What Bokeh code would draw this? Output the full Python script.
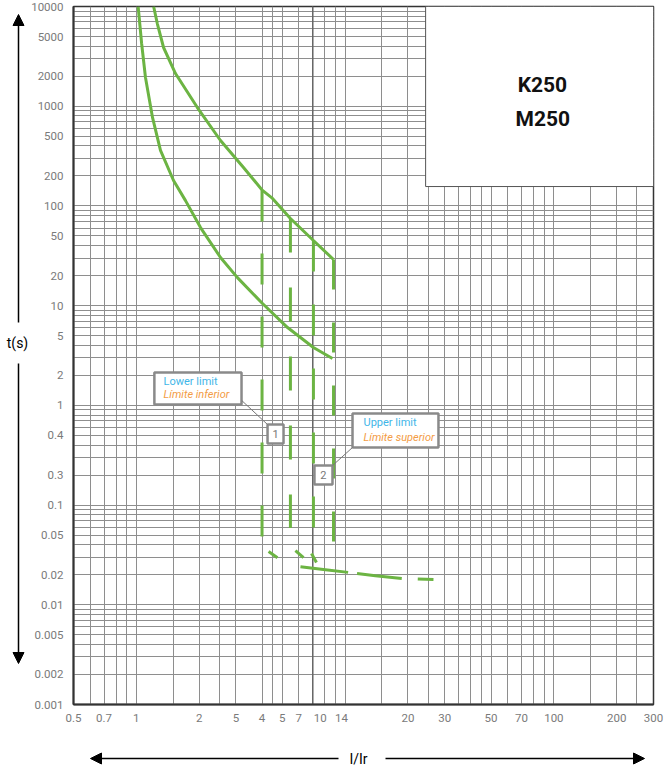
from bokeh.plotting import figure
from bokeh.layouts import column, row
from bokeh.models import (Range1d, FixedTicker, BoxAnnotation, Label, Arrow,
                          NormalHead, Span)
from bokeh.embed import file_html
from bokeh.resources import INLINE

# ---------------- data ----------------
upper_I = [1.21, 1.26, 1.35, 1.54, 1.96, 2.53, 3.26, 4.02, 4.49, 5.47, 7.05, 8.8]
upper_t = [10000, 6750, 3880, 2128, 970, 453, 243, 143, 119, 74.8, 45, 29]

lower_I = [1.02, 1.06, 1.106, 1.195, 1.305, 1.507, 1.72, 2.03, 2.53, 3.05, 4.02, 5.3, 7.05, 8.7]
lower_t = [10000, 4256, 1941, 771, 360, 180, 113, 60.7, 30.4, 19.1, 10.5, 6.03, 3.8, 2.95]

trip_I = [4.0, 5.47, 7.05, 8.8]
trip_t_top = [143, 74.8, 45, 29]
trip_t_bottom = [0.048, 0.059, 0.059, 0.043]

knee_I0 = [4.30, 5.78, 6.90]
knee_t0 = [0.0342, 0.035, 0.0327]
knee_I1 = [4.74, 6.32, 7.29]
knee_t1 = [0.0297, 0.0297, 0.0265]

inst_I = [6.11, 8.05, 10.6, 13.96, 19.0, 26.5]
inst_t = [0.0241, 0.0225, 0.0210, 0.0196, 0.0183, 0.0179]

xtick_vals = [0.5, 0.7, 1, 2, 3, 4, 5, 6, 7.6, 9.6, 20, 30, 50, 70, 100, 200, 300]
xtick_labels = ["0.5", "0.7", "1", "2", "5", "4", "5", "7", "10", "14",
                "20", "30", "50", "70", "100", "200", "300"]
ytick_vals = [10000, 5000, 2000, 1000, 500, 200, 100, 50, 20, 10, 5, 2, 1,
              0.5, 0.2, 0.1, 0.05, 0.02, 0.01, 0.005, 0.002, 0.001]
ytick_labels = ["10000", "5000", "2000", "1000", "500", "200", "100", "50", "20",
                "10", "5", "2", "1", "0.4", "0.3", "0.1", "0.05", "0.02", "0.01",
                "0.005", "0.002", "0.001"]
xgrid_vals = [0.6, 0.7, 0.8, 0.9, 1, 1.5, 2, 2.5, 3, 4, 4.5, 5, 6, 7, 8, 9, 10,
              15, 20, 25, 30, 35, 40, 45, 50, 60, 70, 80, 90, 100, 150, 200, 250]
ygrid_vals = [k * 10.0 ** e for e in range(-3, 4) for k in range(1, 10)] + [10000]

# ---------------- styling ----------------
GREEN = "#6cb443"
GRID = "#8e8e8e"
TICK = "#7a7a7a"
FONT = "Roboto"

p = figure(x_axis_type="log", y_axis_type="log",
           x_range=Range1d(0.5, 300), y_range=Range1d(0.001, 10000),
           frame_width=580, frame_height=698,
           min_border_left=45, min_border_right=15, min_border_top=6, min_border_bottom=36,
           output_backend="svg", toolbar_location=None, title=None)

p.background_fill_color = "white"
p.border_fill_color = "white"
p.outline_line_color = "#333333"
p.outline_line_width = 1.5

for ax in (p.xaxis[0], p.yaxis[0]):
    ax.axis_line_color = "#333333"
    ax.axis_line_width = 2
    ax.major_tick_line_color = None
    ax.minor_tick_line_color = None
    ax.major_tick_out = 0
    ax.major_tick_in = 0
    ax.minor_tick_out = 0
    ax.minor_tick_in = 0
    ax.major_label_text_font = FONT
    ax.major_label_text_font_size = "11.5px"
    ax.major_label_text_color = TICK

p.xaxis.ticker = FixedTicker(ticks=xtick_vals)
p.xaxis.major_label_overrides = {v: s for v, s in zip(xtick_vals, xtick_labels)}
p.xaxis.major_label_standoff = 9
p.yaxis.ticker = FixedTicker(ticks=ytick_vals)
p.yaxis.major_label_overrides = {v: s for v, s in zip(ytick_vals, ytick_labels)}
p.yaxis.major_label_standoff = 10

p.xgrid.ticker = FixedTicker(ticks=xgrid_vals)
p.ygrid.ticker = FixedTicker(ticks=ygrid_vals)
for g in (p.xgrid[0], p.ygrid[0]):
    g.grid_line_color = GRID
    g.grid_line_width = 1

p.add_layout(Span(location=7, dimension="height", line_color="#666666",
                  line_width=1.5, level="underlay"))

# ---------------- curves ----------------
p.line(upper_I, upper_t, line_color=GREEN, line_width=3)
p.line(lower_I, lower_t, line_color=GREEN, line_width=3)

dashes = ["31 32", "34 35", "31 33", "30 33"]
for i in range(len(trip_I)):
    p.line([trip_I[i], trip_I[i]], [trip_t_top[i], trip_t_bottom[i]],
           line_color=GREEN, line_width=3, line_dash=dashes[i])

p.segment(knee_I0, knee_t0, knee_I1, knee_t1, line_color=GREEN, line_width=3)
p.line(inst_I, inst_t, line_color=GREEN, line_width=3, line_dash="48 9 45 16")

# ---------------- annotation boxes ----------------
p.add_layout(BoxAnnotation(left=24.3, bottom=156.5, fill_color="white", fill_alpha=1,
                           line_color="#555555", line_alpha=1, line_width=1))
p.add_layout(Label(x=88.1, y=1651, text="K250", text_font=FONT, text_font_style="bold",
                   text_font_size="21px", text_color="#111111",
                   text_align="center", text_baseline="middle"))
p.add_layout(Label(x=88.5, y=736, text="M250", text_font=FONT, text_font_style="bold",
                   text_font_size="21px", text_color="#111111",
                   text_align="center", text_baseline="middle"))

BOXLINE = "#8a8a8a"
boxes = [(1.22, 3.19, 2.13, 1.02), (10.85, 28.0, 0.828, 0.378),
         (4.25, 5.07, 0.642, 0.414), (7.13, 8.70, 0.249, 0.161)]
for (l, r, t, b) in boxes:
    p.add_layout(BoxAnnotation(left=l, right=r, top=t, bottom=b, fill_color="white",
                               fill_alpha=1, line_color=BOXLINE, line_alpha=1,
                               line_width=2.5))

p.add_layout(Arrow(end=None, x_start=3.2, y_start=1.117, x_end=4.25, y_end=0.642,
                   line_color="#777777", line_width=1))
p.add_layout(Arrow(end=None, x_start=10.85, y_start=0.378, x_end=8.70, y_end=0.249,
                   line_color="#777777", line_width=1))

BLUE = "#3fb6e8"
ORANGE = "#f39c45"
for (x, y, txt, col, sty) in [(1.35, 1.73, "Lower limit", BLUE, "normal"),
                              (1.35, 1.28, "Límite inferior", ORANGE, "italic"),
                              (12.25, 0.672, "Upper limit", BLUE, "normal"),
                              (12.25, 0.475, "Límite superior", ORANGE, "italic")]:
    p.add_layout(Label(x=x, y=y, text=txt, text_font=FONT, text_font_size="11px",
                       text_color=col, text_font_style=sty,
                       text_align="left", text_baseline="middle"))
for (x, y, txt) in [(4.64, 0.521, "1"), (7.87, 0.202, "2")]:
    p.add_layout(Label(x=x, y=y, text=txt, text_font=FONT, text_font_size="11px",
                       text_color="#777777", text_align="center", text_baseline="middle"))

# ---------------- axis titles with arrows (side strips in page-pixel units) ----------------
head = dict(size=11, fill_color="black", line_color="black")

def strip(w, h, x0, x1, y0, y1):
    f = figure(width=w, height=h, x_range=Range1d(x0, x1), y_range=Range1d(y0, y1),
               min_border=0, output_backend="svg", toolbar_location=None, title=None,
               x_axis_location=None, y_axis_location=None)
    f.xgrid.visible = False
    f.ygrid.visible = False
    f.outline_line_color = None
    f.background_fill_color = "white"
    f.border_fill_color = "white"
    return f

# the strip's frame is aligned with the main frame (page y 6..704)
left = strip(28, 740, 0, 28, 704, 6)
left.add_layout(Arrow(end=NormalHead(**head), x_start=18, y_start=322, x_end=18, y_end=14,
                      line_width=1.5))
left.add_layout(Arrow(end=NormalHead(**head), x_start=18, y_start=363, x_end=18, y_end=663,
                      line_width=1.5))
left.add_layout(Label(x=17, y=342, text="t(s)", text_font=FONT, text_font_size="14px",
                      text_color="black", text_align="center", text_baseline="middle"))

bottom = strip(668, 28, 0, 668, 768, 740)
bottom.add_layout(Arrow(end=NormalHead(**head), x_start=338, y_start=758, x_end=90, y_end=758,
                        line_width=1.5))
bottom.add_layout(Arrow(end=NormalHead(**head), x_start=385, y_start=758, x_end=644, y_end=758,
                        line_width=1.5))
bottom.add_layout(Label(x=358, y=758, text="I/Ir", text_font=FONT, text_font_size="14px",
                        text_color="black", text_align="center", text_baseline="middle"))

layout = column(row(left, p, spacing=0), bottom, spacing=0)

open("out.html", "w").write(file_html(layout, INLINE))
